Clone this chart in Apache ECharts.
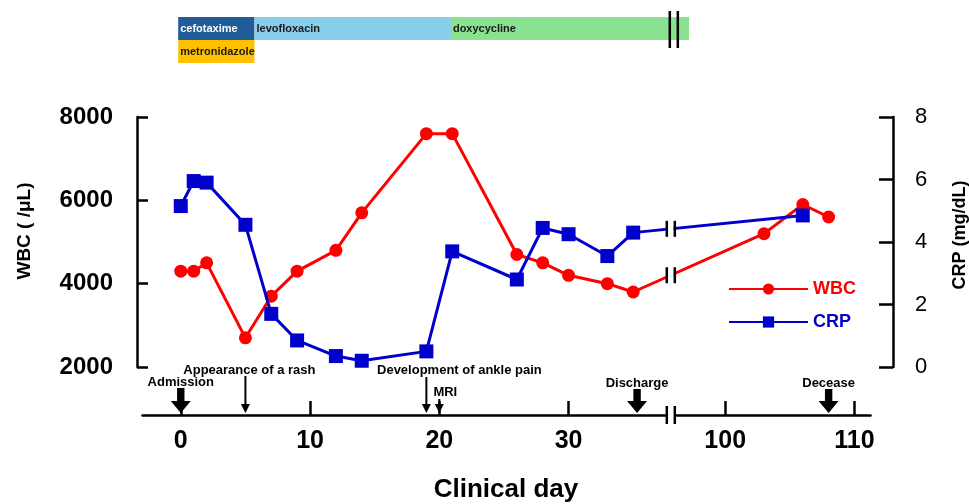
<!DOCTYPE html>
<html><head><meta charset="utf-8">
<script src="https://cdn.jsdelivr.net/npm/echarts@6/dist/echarts.min.js"></script>
<style>html,body{margin:0;padding:0;background:#fff}#c{width:969px;height:504px}</style>
</head><body><div id="c"></div>
<script>
const FONT = '"Liberation Sans", Arial, sans-serif';

// ---- data ----
const wbcDays   = [0, 1, 2, 5, 7, 9, 12, 14, 19, 21, 26, 28, 30, 33, 35, 103, 106, 108];
const wbcValues = [4300, 4300, 4500, 2700, 3700, 4300, 4800, 5700, 7600, 7600, 4700, 4500, 4200, 4000, 3800, 5200, 5900, 5600];
const crpDays   = [0, 1, 2, 5, 7, 9, 12, 14, 19, 21, 26, 28, 30, 33, 35, 106];
const crpValues = [5.15, 5.95, 5.9, 4.55, 1.7, 0.85, 0.35, 0.2, 0.5, 3.7, 2.8, 4.45, 4.25, 3.55, 4.3, 4.85];
const xTickValues = [0, 10, 20, 30, 100, 110];
const breakStart = 37.6, breakEnd = 96.1;

const drugNames = ['cefotaxime', 'metronidazole', 'levofloxacin', 'doxycycline'];
const drugStart = [-0.2, -0.2, 5.7, 20.9];
const drugEnd   = [5.7, 5.7, 20.9, 97.2];
const drugRow   = [0, 1, 0, 0];

const eventDays   = [0, 5, 19, 20, 35.3, 108];
const eventLabels = ['Admission', 'Appearance of a rash', 'Development of ankle pain', 'MRI', 'Discharge', 'Decease'];

// ---- styles ----
const drugColors = ['#1f5c99', '#ffc000', '#87ceeb', '#88e290'];
const drugText   = ['#ffffff', '#1a1a1a', '#1a1a1a', '#1a1a1a'];
const arrowKind  = ['thick', 'thin', 'thin', 'thin', 'thick', 'thick'];
const arrowTop   = [21, 9, 10, 32, 22, 22];
const labelDx    = [0, 4, 33, 6, 0, 0];
const labelDy    = [15, 3, 3, 25, 16, 16];

const chart = echarts.init(document.getElementById('c'), null, {renderer: 'canvas'});

const xBase = {
  type: 'value', min: -3, max: 111.2,
  breaks: [{start: breakStart, end: breakEnd, gap: 0.62}],
  breakArea: {show: false},
  splitLine: {show: false}
};
const plain = v => String(v);

const option = {
  animation: false,
  backgroundColor: '#fff',
  grid: [
    {left: 142, right: 99, top: 117, bottom: 137, outerBoundsMode: 'none', containLabel: false},
    {left: 142, right: 99, top: 17, height: 46, outerBoundsMode: 'none', containLabel: false}
  ],
  xAxis: [
    Object.assign({}, xBase, {
      gridIndex: 0, position: 'bottom', offset: 48,
      axisLine: {onZero: false, lineStyle: {color: '#000', width: 2.5}},
      axisTick: {show: true, inside: true, length: 14, customValues: xTickValues, lineStyle: {color: '#000', width: 2.5}},
      axisLabel: {customValues: xTickValues, formatter: plain, margin: 14, color: '#000', fontFamily: FONT, fontWeight: 'bold', fontSize: 25},
      name: 'Clinical day', nameLocation: 'middle', nameGap: 62,
      nameTextStyle: {color: '#000', fontFamily: FONT, fontWeight: 'bold', fontSize: 26}
    }),
    Object.assign({}, xBase, {gridIndex: 1, show: false})
  ],
  yAxis: [
    {
      type: 'value', gridIndex: 0, position: 'left', offset: 5,
      min: 2000, max: 8000, interval: 2000,
      splitLine: {show: false},
      axisLine: {show: true, onZero: false, lineStyle: {color: '#000', width: 2.5}},
      axisTick: {show: true, inside: true, length: 11, lineStyle: {color: '#000', width: 2.5}},
      axisLabel: {formatter: plain, margin: 24, color: '#000', fontFamily: FONT, fontWeight: 'bold', fontSize: 24},
      name: 'WBC ( /\u03bcL)', nameLocation: 'middle', nameRotate: 90, nameGap: 103,
      nameTextStyle: {color: '#000', fontFamily: FONT, fontWeight: 'bold', fontSize: 19, padding: [0, 0, 0, 22]}
    },
    {
      type: 'value', gridIndex: 0, position: 'right', offset: 23,
      min: 0, max: 8, interval: 2,
      splitLine: {show: false},
      axisLine: {show: true, onZero: false, lineStyle: {color: '#000', width: 2.5}},
      axisTick: {show: true, inside: true, length: 14, lineStyle: {color: '#000', width: 2.5}},
      axisLabel: {formatter: plain, margin: 22, color: '#000', fontFamily: FONT, fontSize: 22},
      name: 'CRP (mg/dL)', nameLocation: 'middle', nameRotate: 90, nameGap: 58,
      nameTextStyle: {color: '#000', fontFamily: FONT, fontWeight: 'bold', fontSize: 18, padding: [0, 0, 0, 14]}
    },
    {type: 'category', gridIndex: 1, data: ['r0', 'r1'], inverse: true, show: false}
  ],
  legend: {
    orient: 'vertical', left: 728, top: 280, padding: 0,
    itemWidth: 79, itemHeight: 14, itemGap: 15,
    textStyle: {fontFamily: FONT, fontWeight: 'bold', fontSize: 18},
    data: [
      {name: 'WBC', textStyle: {color: '#ff0000'}},
      {name: 'CRP', textStyle: {color: '#0000cc'}}
    ]
  },
  series: [
    {
      name: 'WBC', type: 'line', xAxisIndex: 0, yAxisIndex: 0,
      data: wbcDays.map((d, i) => [d, wbcValues[i]]),
      symbol: 'circle', symbolSize: 13,
      lineStyle: {color: '#ff0000', width: 3},
      itemStyle: {color: '#ff0000'}, z: 3
    },
    {
      name: 'CRP', type: 'line', xAxisIndex: 0, yAxisIndex: 1,
      data: crpDays.map((d, i) => [d, crpValues[i]]),
      symbol: 'rect', symbolSize: 14,
      lineStyle: {color: '#0000cc', width: 3},
      itemStyle: {color: '#0000cc'}, z: 4
    },
    {
      name: 'drugs', type: 'custom', xAxisIndex: 1, yAxisIndex: 2,
      data: drugNames.map((n, i) => [drugStart[i], drugEnd[i], drugRow[i], i]),
      renderItem: function (params, api) {
        const i = api.value(3);
        const s = api.coord([api.value(0), api.value(2)]);
        const e = api.coord([api.value(1), api.value(2)]);
        const h = api.size([0, 1])[1];
        return {type: 'group', children: [
          {type: 'rect', shape: {x: s[0], y: s[1] - h / 2, width: e[0] - s[0], height: h}, style: {fill: drugColors[i]}},
          {type: 'text', style: {text: drugNames[i], x: s[0] + 2, y: s[1], verticalAlign: 'middle', fill: drugText[i], font: 'bold 11px ' + FONT}}
        ]};
      }
    },
    {
      name: 'events', type: 'custom', xAxisIndex: 0, yAxisIndex: 0, clip: false,
      data: eventDays.map((d, i) => [d, 2000, i]),
      renderItem: function (params, api) {
        const i = api.value(2);
        const p = api.coord([api.value(0), 2000]);
        const x = p[0], yb = p[1];
        const tip = yb + 46;
        const ch = [];
        if (arrowKind[i] === 'thick') {
          ch.push({type: 'polygon', shape: {points: [
            [x - 3.7, yb + arrowTop[i]], [x + 3.7, yb + arrowTop[i]], [x + 3.7, yb + 34],
            [x + 10, yb + 34], [x, tip], [x - 10, yb + 34], [x - 3.7, yb + 34]]}, style: {fill: '#000'}});
        } else {
          ch.push({type: 'line', shape: {x1: x, y1: yb + arrowTop[i], x2: x, y2: tip - 4}, style: {stroke: '#000', lineWidth: 2}});
          ch.push({type: 'polygon', shape: {points: [[x - 4.5, tip - 9], [x + 4.5, tip - 9], [x, tip]]}, style: {fill: '#000'}});
        }
        ch.push({type: 'text', style: {text: eventLabels[i], x: x + labelDx[i], y: yb + labelDy[i], align: 'center', verticalAlign: 'middle', fill: '#000', font: 'bold 13px ' + FONT}});
        return {type: 'group', children: ch};
      }
    }
  ]
};

chart.setOption(option);

// break marks placed through the axis scale
const gx0 = chart.convertToPixel({xAxisIndex: 0}, breakStart);
const gx1 = chart.convertToPixel({xAxisIndex: 0}, breakEnd);
const axisY = chart.convertToPixel({yAxisIndex: 0}, 2000) + 48;
const gm = (gx0 + gx1) / 2;
const graphics = [];
function breakMark(yc, half, wWhite) {
  graphics.push({type: 'rect', z: 100, shape: {x: gx0 + 1.2, y: yc - wWhite, width: gx1 - gx0 - 2.4, height: wWhite * 2}, style: {fill: '#fff'}});
  graphics.push({type: 'line', z: 101, shape: {x1: gx0, y1: yc - half, x2: gx0, y2: yc + half}, style: {stroke: '#000', lineWidth: 2.5}});
  graphics.push({type: 'line', z: 101, shape: {x1: gx1, y1: yc - half, x2: gx1, y2: yc + half}, style: {stroke: '#000', lineWidth: 2.5}});
}
function lineBreak(days, vals, yIdx) {
  let k = 0;
  while (k < days.length - 1 && days[k + 1] < breakStart) k++;
  const a = chart.convertToPixel({xAxisIndex: 0, yAxisIndex: yIdx}, [days[k], vals[k]]);
  const b = chart.convertToPixel({xAxisIndex: 0, yAxisIndex: yIdx}, [days[k + 1], vals[k + 1]]);
  const y = a[1] + (gm - a[0]) * (b[1] - a[1]) / (b[0] - a[0]);
  breakMark(y, 8, 5);
}
lineBreak(wbcDays, wbcValues, 0);
lineBreak(crpDays, crpValues, 1);
breakMark(axisY, 9, 3);
// marks on the antibiotic bar
graphics.push({type: 'line', z: 101, shape: {x1: gx0 + 3, y1: 11, x2: gx0 + 3, y2: 48}, style: {stroke: '#000', lineWidth: 2.5}});
graphics.push({type: 'line', z: 101, shape: {x1: gx1 + 3, y1: 11, x2: gx1 + 3, y2: 48}, style: {stroke: '#000', lineWidth: 2.5}});
chart.setOption({graphic: graphics});
</script>
</body></html>
